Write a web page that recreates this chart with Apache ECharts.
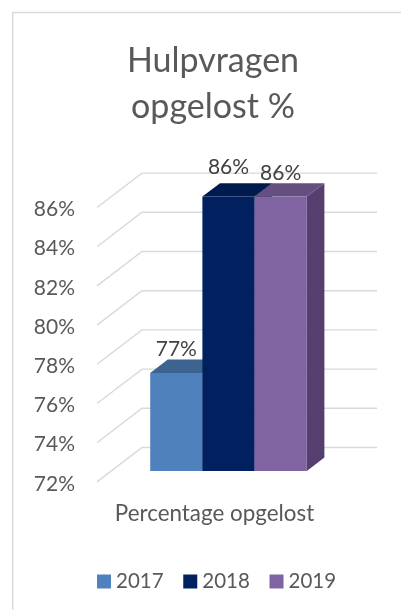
<!DOCTYPE html>
<html><head><meta charset="utf-8">
<style>html,body{margin:0;padding:0;background:#fff}#c{width:401px;height:610px}</style>
<script src="https://cdn.jsdelivr.net/npm/echarts@6/dist/echarts.min.js"></script>
</head><body><div id="c"></div>
<script>
var categories = ['Percentage opgelost'];
var values2017 = [77];
var values2018 = [86];
var values2019 = [86];
var yTicks = [72, 74, 76, 78, 80, 82, 84, 86];
var titleText = 'Hulpvragen\nopgelost %';

var FONT = 'Lato';
var TXT = '#595959';
var planeDy = 2;                      // tick labels sit this far below the gridline starts
var wallDx = 45, wallDy = 34.4;       // floor depth of the chart box
var barDx = 14, barDy = 10.9;         // where the bars stand in that depth
var depthX = 17.6, depthY = 13.4;     // depth of a bar
var barW = 52.2;
var seriesStyles = [
  {name:'2017', data:values2017, front:'#4f81bd', top:'#3d6391', side:'#3a5d88', idx:-1, labelDy:-24},
  {name:'2018', data:values2018, front:'#002060', top:'#001a4d', side:'#001a4d', idx:0, labelDy:-29},
  {name:'2019', data:values2019, front:'#8064a2', top:'#654f80', side:'#553f6f', idx:1, labelDy:-23}
];

var chart = echarts.init(document.getElementById('c'), null, {renderer:'canvas'});

function wallItem(params, api){
  var p = api.coord([0, api.value(0)]);
  var cs = params.coordSys;
  var x0 = cs.x, y0 = p[1] - planeDy;
  return {type:'polyline', silent:true,
    shape:{points:[[x0,y0],[x0+wallDx,y0-wallDy],[x0+cs.width+wallDx,y0-wallDy]]},
    style:{fill:null, stroke:'#d9d9d9', lineWidth:1.4}};
}
function barItem(s){
  return function(params, api){
    var top = api.coord([0, api.value(0)]);
    var base = api.coord([0, yTicks[0]]);
    var cx = top[0] + barDx + s.idx * barW;
    var x0 = cx - barW/2, x1 = cx + barW/2;
    var yt = top[1] - barDy - planeDy, yb = base[1] - barDy - planeDy;
    return {type:'group', children:[
      {type:'polygon', shape:{points:[[x1,yt],[x1+depthX,yt-depthY],[x1+depthX,yb-depthY],[x1,yb]]}, style:{fill:s.side}},
      {type:'polygon', shape:{points:[[x0,yt],[x0+depthX,yt-depthY],[x1+depthX,yt-depthY],[x1,yt]]}, style:{fill:s.top}},
      {type:'rect', shape:{x:x0,y:yt,width:barW,height:yb-yt}, style:{fill:s.front}},
      {type:'text', x:cx, y:yt+s.labelDy, style:{text:api.value(0)+'%', align:'center', verticalAlign:'middle', fill:'#404040', font:'21px '+FONT}}
    ]};
  };
}

var series = [{type:'custom', name:'wall', silent:true, z:1, clip:false, data:yTicks.map(function(v){return [v];}),
  encode:{y:0}, renderItem:wallItem}];
seriesStyles.forEach(function(s, i){
  series.push({type:'custom', name:s.name, z:2+i, clip:false, itemStyle:{color:s.front},
    data:s.data.map(function(v){return [v];}), encode:{y:0}, renderItem:barItem(s)});
});

chart.setOption({
  animation:false,
  backgroundColor:'#fff',
  graphic:[{type:'rect', z:-1, silent:true, shape:{x:12.7,y:12.5,width:420,height:640}, style:{fill:'#fff', stroke:'#d9d9d9', lineWidth:1.4}}],
  title:{text:titleText, left:208, top:33, textAlign:'center',
    textStyle:{fontFamily:FONT, fontSize:34, fontWeight:'normal', color:TXT, lineHeight:46}},
  grid:{left:97, top:209.5, width:235, height:274.4, containLabel:false},
  xAxis:{type:'category', data:categories, axisLine:{show:false}, axisTick:{show:false},
    axisLabel:{fontFamily:FONT, fontSize:22.4, color:TXT, margin:19}},
  yAxis:{type:'value', min:72, max:86, interval:2, axisLine:{show:false}, axisTick:{show:false}, splitLine:{show:false},
    axisLabel:{fontFamily:FONT, fontSize:21, color:TXT, margin:22, formatter:'{value}%'}},
  legend:{data:['2017','2018','2019'], left:92, top:566, itemWidth:14, itemHeight:14, itemGap:19.7, icon:'rect',
    textStyle:{fontFamily:FONT, fontSize:20.5, color:TXT}},
  series:series
});
</script></body></html>
